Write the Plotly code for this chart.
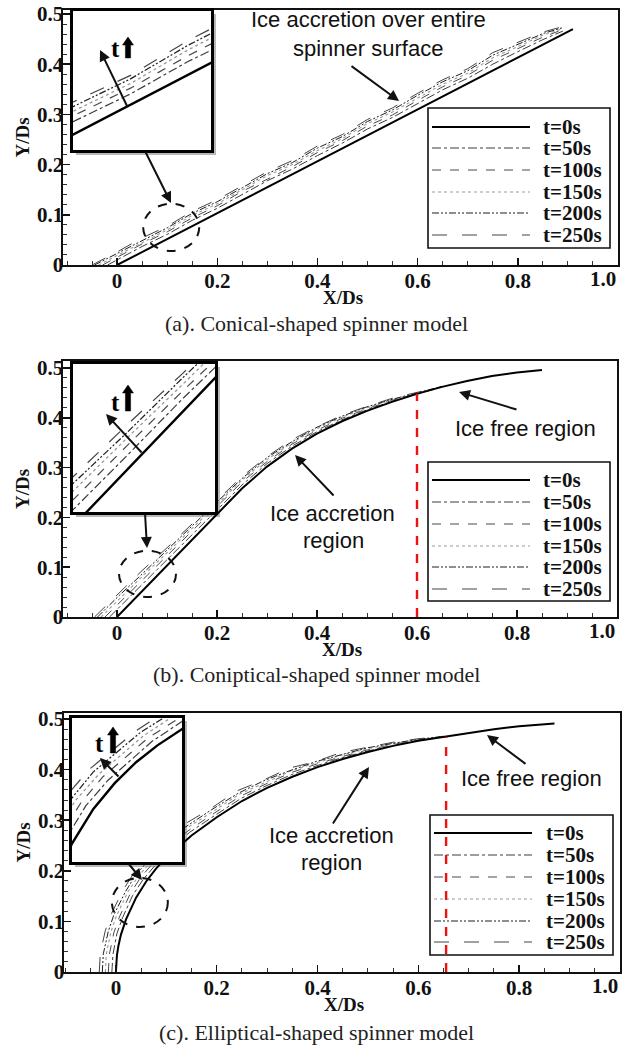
import plotly.graph_objects as go

W, H = 632, 1049
def px(x): return x / W
def py(y): return 1 - y / H

SERIF = "Liberation Serif"
SANS = "Liberation Sans"

LABELS = ["t=0s", "t=50s", "t=100s", "t=150s", "t=200s", "t=250s"]
DASHES = ["solid", "dashdot", "dash", "dot", "7px,2px,2px,2px,2px,2px", "longdash"]
COLORS = ["#000000", "#3c3c3c", "#4a4a4a", "#9a9a9a", "#1e1e1e", "#444444"]
WIDTHS = [2.0, 1.0, 1.0, 1.1, 1.0, 1.0]

X_TICKS = [0, 0.2, 0.4, 0.6, 0.8, 1.0]
X_TICK_TEXT = ["0", "0.2", "0.4", "0.6", "0.8", ""]   # "1.0" is right-aligned at the frame (below)
X_LAST_TICK = 1.0
X_LAST_TEXT = "1.0"
Y_TICKS = [0, 0.1, 0.2, 0.3, 0.4, 0.5]
Y_TICK_TEXT = ["0", "0.1", "0.2", "0.3", "0.4", "0.5"]
X_TITLE = "X/Ds"
Y_TITLE = "Y/Ds"

# ---------------- (a) conical spinner ----------------
A_T0_X = [0.0, 0.91]
A_T0_Y = [0.0, 0.47]
A_STATIONS = [0.0, 0.05, 0.10, 0.15, 0.20, 0.25, 0.30, 0.35, 0.40, 0.45,
              0.50, 0.55, 0.60, 0.65, 0.70, 0.75, 0.80, 0.85, 0.89]
A_START_X = [-0.019, -0.029, -0.037, -0.045, -0.050]   # t=50..250 at Y=0
A_T50 = [0.010, 0.037, 0.061, 0.089, 0.113, 0.140, 0.168, 0.191, 0.218, 0.243,
         0.271, 0.294, 0.322, 0.349, 0.372, 0.400, 0.425, 0.449, 0.466]
A_T100 = [0.015, 0.042, 0.066, 0.094, 0.118, 0.147, 0.171, 0.196, 0.224, 0.248,
          0.277, 0.299, 0.328, 0.355, 0.378, 0.408, 0.431, 0.454, 0.469]
A_T150 = [0.019, 0.046, 0.070, 0.099, 0.122, 0.150, 0.178, 0.200, 0.228, 0.252,
          0.282, 0.305, 0.333, 0.360, 0.382, 0.413, 0.435, 0.458, 0.471]
A_T200 = [0.023, 0.050, 0.074, 0.103, 0.126, 0.154, 0.182, 0.204, 0.233, 0.256,
          0.286, 0.309, 0.338, 0.365, 0.387, 0.418, 0.440, 0.461, 0.473]
A_T250 = [0.026, 0.054, 0.077, 0.107, 0.130, 0.158, 0.186, 0.208, 0.237, 0.260,
          0.290, 0.313, 0.342, 0.369, 0.391, 0.423, 0.444, 0.464, 0.475]

# ---------------- (b) coniptical spinner ----------------
B_T0_X = [0.0, 0.05, 0.10, 0.15, 0.20, 0.25, 0.30, 0.35, 0.40, 0.45,
          0.50, 0.55, 0.60, 0.65, 0.70, 0.75, 0.80, 0.85]
B_T0_Y = [0.0, 0.052, 0.104, 0.156, 0.208, 0.258, 0.302, 0.338, 0.368, 0.393,
          0.414, 0.432, 0.448, 0.462, 0.474, 0.484, 0.491, 0.496]
B_STATIONS = [0.0, 0.05, 0.10, 0.15, 0.20, 0.25, 0.30, 0.35, 0.40, 0.45,
              0.50, 0.55, 0.60, 0.65]
B_START_X = [-0.015, -0.024, -0.032, -0.039, -0.045]
B_T50 = [0.015, 0.065, 0.116, 0.166, 0.217, 0.265, 0.308, 0.343, 0.372, 0.396,
         0.416, 0.433, 0.448, 0.462]
B_T100 = [0.024, 0.074, 0.123, 0.173, 0.222, 0.271, 0.312, 0.347, 0.375, 0.399,
          0.418, 0.435, 0.449, 0.462]
B_T150 = [0.032, 0.081, 0.129, 0.178, 0.227, 0.275, 0.316, 0.350, 0.378, 0.401,
          0.420, 0.436, 0.450, 0.462]
B_T200 = [0.039, 0.086, 0.135, 0.182, 0.231, 0.278, 0.320, 0.352, 0.381, 0.403,
          0.422, 0.437, 0.450, 0.463]
B_T250 = [0.045, 0.093, 0.139, 0.187, 0.234, 0.282, 0.322, 0.356, 0.382, 0.405,
          0.423, 0.439, 0.451, 0.463]
B_ICE_LIMIT_X = 0.60
B_ICE_LIMIT_Y = 0.448

# ---------------- (c) elliptical spinner ----------------
C_T0_X = [0.0, 0.002, 0.005, 0.01, 0.02, 0.04, 0.06, 0.08, 0.10, 0.15, 0.20, 0.25,
          0.30, 0.35, 0.40, 0.45, 0.50, 0.55, 0.60, 0.65, 0.70, 0.75, 0.80, 0.87]
C_T0_Y = [0.0, 0.033, 0.052, 0.074, 0.104, 0.147, 0.179, 0.205, 0.226, 0.270, 0.306, 0.338,
          0.364, 0.386, 0.405, 0.421, 0.435, 0.447, 0.457, 0.465, 0.473, 0.480, 0.486, 0.491]
C_T50_X = [-0.008, -0.006, 0.002, 0.013, 0.033, 0.054, 0.095, 0.146, 0.197, 0.248,
           0.298, 0.348, 0.399, 0.449, 0.500, 0.550, 0.600, 0.650]
C_T50_Y = [0.0, 0.034, 0.076, 0.107, 0.151, 0.183, 0.231, 0.276, 0.310, 0.343,
           0.368, 0.390, 0.408, 0.424, 0.437, 0.448, 0.458, 0.465]
C_T100_X = [-0.015, -0.013, -0.004, 0.007, 0.028, 0.049, 0.091, 0.143, 0.195, 0.246,
            0.296, 0.347, 0.398, 0.449, 0.499, 0.550, 0.600, 0.650]
C_T100_Y = [0.0, 0.035, 0.078, 0.109, 0.154, 0.187, 0.235, 0.279, 0.314, 0.347,
            0.371, 0.394, 0.411, 0.426, 0.439, 0.450, 0.458, 0.465]
C_T150_X = [-0.021, -0.019, -0.010, 0.001, 0.023, 0.045, 0.087, 0.140, 0.192, 0.244,
            0.295, 0.346, 0.397, 0.448, 0.499, 0.549, 0.600, 0.650]
C_T150_Y = [0.0, 0.036, 0.079, 0.111, 0.157, 0.190, 0.238, 0.284, 0.317, 0.351,
            0.374, 0.397, 0.413, 0.429, 0.441, 0.451, 0.459, 0.465]
C_T200_X = [-0.027, -0.025, -0.015, -0.004, 0.019, 0.040, 0.084, 0.137, 0.190, 0.242,
            0.293, 0.345, 0.397, 0.448, 0.498, 0.549, 0.600, 0.650]
C_T200_Y = [0.0, 0.036, 0.081, 0.113, 0.159, 0.193, 0.242, 0.286, 0.321, 0.353,
            0.378, 0.398, 0.416, 0.430, 0.443, 0.452, 0.460, 0.466]
C_T250_X = [-0.033, -0.031, -0.021, -0.009, 0.014, 0.036, 0.080, 0.134, 0.188, 0.240,
            0.292, 0.344, 0.396, 0.447, 0.498, 0.549, 0.599, 0.650]
C_T250_Y = [0.0, 0.037, 0.082, 0.115, 0.162, 0.196, 0.244, 0.291, 0.323, 0.358,
            0.379, 0.403, 0.416, 0.434, 0.444, 0.454, 0.461, 0.466]
C_ICE_LIMIT_X = 0.655
C_ICE_LIMIT_Y = 0.465

CAPTIONS = ["(a). Conical-shaped spinner model",
            "(b). Coniptical-shaped spinner model",
            "(c). Elliptical-shaped spinner model"]


def with_start(starts, stations, ys_list):
    out = []
    for s, ys in zip(starts, ys_list):
        out.append(([s] + stations, [0.0] + ys))
    return out


SERIES_A = [(A_T0_X, A_T0_Y)] + with_start(A_START_X, A_STATIONS,
                                           [A_T50, A_T100, A_T150, A_T200, A_T250])
SERIES_B = [(B_T0_X, B_T0_Y)] + with_start(B_START_X, B_STATIONS,
                                           [B_T50, B_T100, B_T150, B_T200, B_T250])
SERIES_C = [(C_T0_X, C_T0_Y), (C_T50_X, C_T50_Y), (C_T100_X, C_T100_Y),
            (C_T150_X, C_T150_Y), (C_T200_X, C_T200_Y), (C_T250_X, C_T250_Y)]

fig = go.Figure()

PANELS = [
    dict(series=SERIES_A, ax="x", ay="y", ix="x4", iy="y4"),
    dict(series=SERIES_B, ax="x2", ay="y2", ix="x5", iy="y5"),
    dict(series=SERIES_C, ax="x3", ay="y3", ix="x6", iy="y6"),
]

for p in PANELS:
    order = [1, 2, 3, 4, 5, 0]
    for k in order:
        xs, ys = p["series"][k]
        for (xa, ya, wscale) in [(p["ax"], p["ay"], 1.0), (p["ix"], p["iy"], 1.2)]:
            fig.add_trace(go.Scatter(
                x=xs, y=ys, mode="lines", name=LABELS[k], showlegend=False,
                line=dict(color=COLORS[k], width=WIDTHS[k] * wscale, dash=DASHES[k]),
                xaxis=xa, yaxis=ya, hoverinfo="skip"))

# main axes geometry (pixels)
MAIN_BOXES = [  # left, right, top, bottom, xrange, yrange
    (63, 618, 10, 265, [-0.108, 1.0], [0, 0.508]),
    (63, 617, 361, 617, [-0.108, 1.0], [0, 0.514]),
    (64, 620, 713, 972, [-0.103, 1.0], [0, 0.512]),
]
INSET_BOXES = [
    (73, 211, 11, 150, [0.05, 0.17], [0.0126, 0.1326]),
    (73, 215, 364, 512, [0.0, 0.13], [0.013, 0.148]),
    (72, 182, 718, 862, [0.02, 0.123], [0.081, 0.26]),
]

tickfont = dict(family=SERIF, size=21, color="#111", weight="bold")
titlefont = dict(family=SERIF, size=19, color="#111", weight="bold")
layout = dict(
    width=W, height=H, margin=dict(l=0, r=0, t=0, b=0),
    paper_bgcolor="white", plot_bgcolor="white", template="none",
    showlegend=False,
)
for i, (l, r, t, b, xr, yr) in enumerate(MAIN_BOXES):
    n = "" if i == 0 else str(i + 1)
    layout["xaxis" + n] = dict(
        domain=[px(l), px(r)], range=xr, anchor="y" + n,
        showline=True, mirror=True, linecolor="#111", linewidth=1.6,
        ticks="inside", ticklen=7, tickwidth=1.5, tickcolor="#111",
        tickmode="array", tickvals=X_TICKS, ticktext=X_TICK_TEXT, tickfont=tickfont,
        ticklabelstandoff=-4,
        minor=dict(ticks="inside", ticklen=4, tickwidth=1, tickcolor="#333",
                   tickmode="linear", tick0=0, dtick=0.05),
        showgrid=False, zeroline=False, automargin=False,
    )
    layout["yaxis" + n] = dict(
        domain=[py(b), py(t)], range=yr, anchor="x" + n,
        showline=True, mirror=True, linecolor="#111", linewidth=1.6,
        ticks="inside", ticklen=7, tickwidth=1.5, tickcolor="#111",
        tickmode="array", tickvals=Y_TICKS, ticktext=Y_TICK_TEXT, tickfont=tickfont,
        ticklabelstandoff=-6,
        minor=dict(ticks="inside", ticklen=4, tickwidth=1, tickcolor="#333",
                   tickmode="linear", tick0=0, dtick=0.02),
        showgrid=False, zeroline=False, automargin=False,
        title=dict(text=Y_TITLE, font=titlefont, standoff=2),
    )
for i, (l, r, t, b, xr, yr) in enumerate(INSET_BOXES):
    n = str(i + 4)
    layout["xaxis" + n] = dict(domain=[px(l), px(r)], range=xr, anchor="y" + n,
                               showline=True, mirror=True, linecolor="black", linewidth=3,
                               showticklabels=False, ticks="", showgrid=False, zeroline=False)
    layout["yaxis" + n] = dict(domain=[py(b), py(t)], range=yr, anchor="x" + n,
                               showline=True, mirror=True, linecolor="black", linewidth=3,
                               showticklabels=False, ticks="", showgrid=False, zeroline=False)

fig.update_layout(**layout)

annotations = []
for i, (l, r, t, b, xr, yr) in enumerate(MAIN_BOXES):
    n = "" if i == 0 else str(i + 1)
    # last x tick label, right-aligned to the frame as in the original
    annotations.append(dict(text=X_LAST_TEXT, xref="x" + n, yref="paper",
                            x=X_LAST_TICK, y=py(b + 14), xanchor="right", yanchor="middle",
                            showarrow=False, font=tickfont))
    # x-axis title tucked right under the tick labels
    annotations.append(dict(text=X_TITLE, xref="paper", yref="paper",
                            x=px((l + r) / 2 + 2), y=py(b + 32), xanchor="center",
                            yanchor="middle", showarrow=False, font=titlefont))

shapes = []
# inset shadows
for (l, r, t, b, xr, yr) in INSET_BOXES:
    shapes.append(dict(type="rect", xref="paper", yref="paper", layer="below",
                       x0=px(l + 3), x1=px(r + 5), y0=py(b + 5), y1=py(t + 3),
                       fillcolor="#b8b8b8", line=dict(width=0)))

# dashed magnification circles (data coords)
CIRCLES = [("x", "y", 0.052, 0.164, 0.028, 0.122),
           ("x2", "y2", 0.004, 0.118, 0.040, 0.133),
           ("x3", "y3", -0.008, 0.103, 0.089, 0.186)]
for xa, ya, x0, x1, y0, y1 in CIRCLES:
    shapes.append(dict(type="circle", xref=xa, yref=ya, x0=x0, x1=x1, y0=y0, y1=y1,
                       line=dict(color="#111", width=2, dash="dash"), layer="above"))

# legends (manual, drawn like the original boxed legends)
LEGENDS = [  # box l, r, t, b, entry ys, sample x0, x1, text x
    (428, 610, 108, 248, [127, 148, 170, 192, 213, 235], 432, 530, 541),
    (428, 610, 462, 601, [480, 502, 524, 546, 567, 589], 432, 530, 541),
    (430, 613, 815, 955, [833, 855, 877, 899, 921, 942], 434, 532, 544),
]
for (l, r, t, b, ys, s0, s1, tx) in LEGENDS:
    shapes.append(dict(type="rect", xref="paper", yref="paper", layer="above",
                       x0=px(l), x1=px(r), y0=py(b), y1=py(t), fillcolor="white",
                       line=dict(color="#111", width=1.6)))
    for k, yy in enumerate(ys):
        shapes.append(dict(type="line", xref="paper", yref="paper", layer="above",
                           x0=px(s0), x1=px(s1), y0=py(yy), y1=py(yy),
                           line=dict(color=COLORS[k], width=WIDTHS[k] * 1.1, dash=DASHES[k])))
        annotations.append(dict(text=LABELS[k], xref="paper", yref="paper", x=px(tx), y=py(yy),
                                xanchor="left", yanchor="middle", showarrow=False,
                                font=dict(family=SERIF, size=21, color="#111", weight="bold")))

# red limits of the ice accretion region
shapes.append(dict(type="line", xref="x2", yref="y2", x0=B_ICE_LIMIT_X, x1=B_ICE_LIMIT_X,
                   y0=0, y1=B_ICE_LIMIT_Y, layer="above",
                   line=dict(color="#ee1111", width=2.4, dash="dash")))
shapes.append(dict(type="line", xref="x3", yref="y3", x0=C_ICE_LIMIT_X, x1=C_ICE_LIMIT_X,
                   y0=0, y1=C_ICE_LIMIT_Y, layer="above",
                   line=dict(color="#ee1111", width=2.4, dash="dash")))

# bold "t" arrows inside insets
def thick_arrow(cx, ytop, ybot):
    pts = [(cx - 2.6, ybot), (cx - 2.6, ytop + 8), (cx - 5.5, ytop + 8), (cx, ytop),
           (cx + 5.5, ytop + 8), (cx + 2.6, ytop + 8), (cx + 2.6, ybot)]
    path = "M " + " L ".join(f"{px(a):.5f},{py(b_):.5f}" for a, b_ in pts) + " Z"
    return dict(type="path", xref="paper", yref="paper", path=path, layer="above",
                fillcolor="black", line=dict(color="black", width=0.5))

T_MARKS = [(115, 48, 128, 37, 58), (115, 402, 128, 385, 411), (99, 743, 113, 727, 753)]
for (tx, ty, cx, yt, yb) in T_MARKS:
    shapes.append(thick_arrow(cx, yt, yb))
    annotations.append(dict(text="t", xref="paper", yref="paper", x=px(tx), y=py(ty),
                            showarrow=False, xanchor="center", yanchor="middle",
                            font=dict(family=SERIF, size=25, color="black", weight="bold")))

# arrows: (head x, head y, tail x, tail y)
ARROWS = [
    (100, 50, 128, 108), (171, 203, 145, 151), (399, 101, 350, 65),
    (106, 414, 143, 454), (147, 548, 145, 513), (295, 455, 335, 497), (459, 392, 518, 410),
    (100, 758, 120, 778), (142, 880, 128, 863), (369, 767, 332, 825), (487, 735, 527, 765),
]
for hx, hy, tx, ty in ARROWS:
    annotations.append(dict(text="", xref="paper", yref="paper", x=px(hx), y=py(hy),
                            ax=tx - hx, ay=ty - hy, axref="pixel", ayref="pixel",
                            showarrow=True, arrowhead=2, arrowsize=1.1, arrowwidth=2,
                            arrowcolor="#111"))

TEXTS = [
    ("Ice accretion over entire", 368, 20),
    ("spinner surface", 368, 48),
    ("Ice accretion", 332, 513), ("region", 333, 540),
    ("Ice free region", 525, 428),
    ("Ice accretion", 331, 835), ("region", 331, 862),
    ("Ice free region", 531, 778),
]
for txt, x, y in TEXTS:
    annotations.append(dict(text=txt, xref="paper", yref="paper", x=px(x), y=py(y),
                            showarrow=False, xanchor="center", yanchor="middle",
                            font=dict(family=SANS, size=22, color="#111")))

for cap, y in zip(CAPTIONS, [323, 674, 1032]):
    annotations.append(dict(text=cap, xref="paper", yref="paper", x=px(316), y=py(y),
                            showarrow=False, xanchor="center", yanchor="middle",
                            font=dict(family=SERIF, size=22, color="#222")))

fig.update_layout(shapes=shapes, annotations=annotations)
fig.write_html(
    "out.html",
    config={"displayModeBar": False, "staticPlot": True},
    post_script="document.body.style.margin='0';document.body.style.padding='0';"
                "document.body.style.overflow='hidden';",
)
